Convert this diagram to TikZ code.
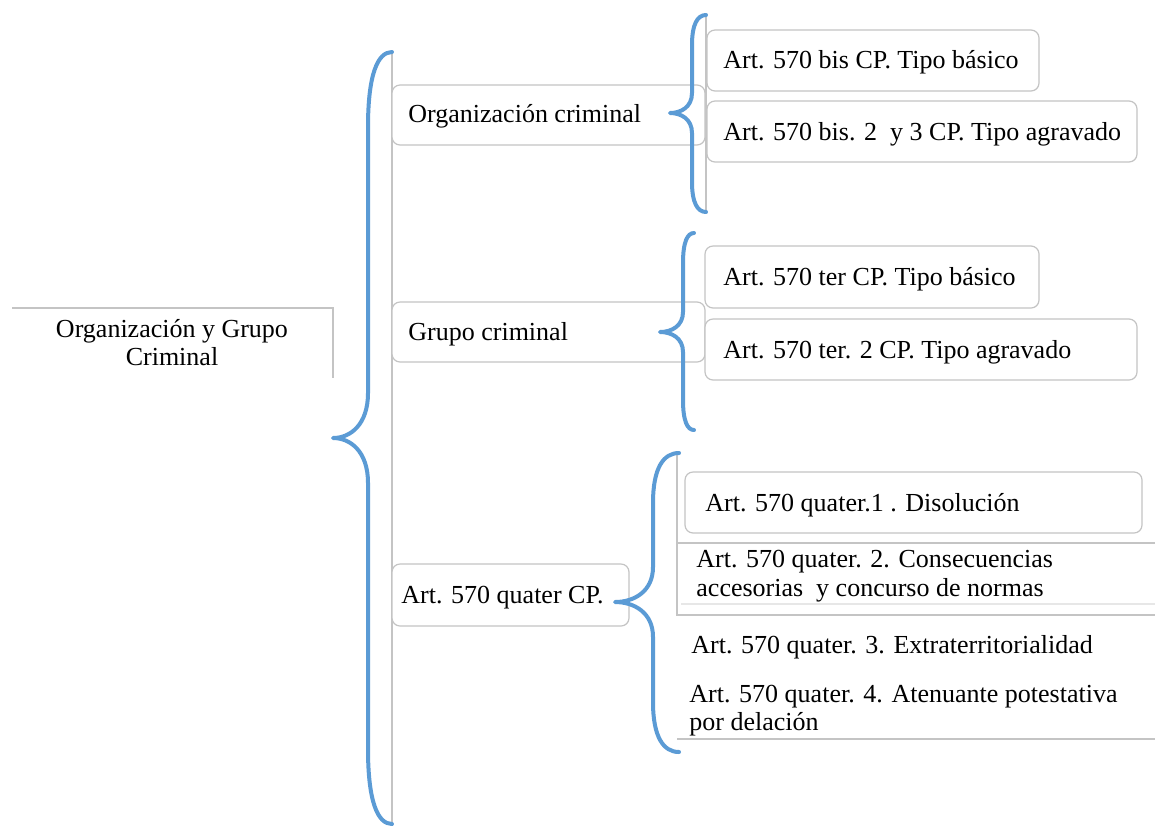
\documentclass[tikz,border=0pt]{standalone}
\usepackage{fontspec}
\setmainfont{Liberation Serif}
\definecolor{braceblue}{HTML}{5B9BD5}
\definecolor{framegray}{HTML}{C4C4C4}
% curly brace: top x, top y, bottom y, tip x, tip y, shaft x, end curl, tip curl
\newcommand\curlybrace[8]{%
  \draw[brace] (#1,#2) .. controls ({#6+0.4*(#1-#6)},#2) and (#6,{#2+0.3*#7}) .. (#6,{#2+#7})
    -- (#6,{#5-#8}) .. controls (#6,{#5-0.3*#8}) and ({#6-0.5*(#6-#4)},#5) .. (#4,#5)
    .. controls ({#6-0.5*(#6-#4)},#5) and (#6,{#5+0.3*#8}) .. (#6,{#5+#8})
    -- (#6,{#3-#7}) .. controls (#6,{#3-0.3*#7}) and ({#6+0.4*(#1-#6)},#3) .. (#1,#3);}
\begin{document}
\begin{tikzpicture}[x=0.5pt,y=-0.5pt,
  frame/.style={draw=framegray, line width=0.6pt},
  card/.style={frame, fill=white, rounded corners=4pt},
  label/.style={anchor=base west, inner sep=0pt, text=black, font=\fontsize{13}{14}\selectfont},
  rootlabel/.style={label, anchor=base},
  brace/.style={draw=braceblue, line width=2pt, line cap=round, line join=round}]
\useasboundingbox[fill=white] (0,0) rectangle (1155,826);

% root frame
\draw[frame] (12,308) -- (333,308) -- (333,378);
\node[rootlabel] (root1) at (172,337) {Organización y Grupo};
\node[rootlabel] (root2) at (172,365) {Criminal};

% guide lines of the groups
\draw[frame] (392,52) -- (392,826);
\draw[frame] (706,15) -- (706,212);
\draw[frame] (677,453) -- (677,616);

% first level
\draw[card] (392,85) rectangle (705,145);
\draw[card] (392,302) rectangle (705,362);
\draw[card] (392,564) rectangle (629,626);
\node[label] (oc) at (408,122) {Organización criminal};
\node[label] (gc) at (408,340) {Grupo criminal};
\node[label] (aq) at (401,603) {Art. 570 quater CP.};

% children of Organización criminal
\draw[card] (707,30) rectangle (1039,91);
\draw[card] (707,101) rectangle (1137,162);
\node[label] (oc1) at (723,68) {Art. 570 bis CP. Tipo básico};
\node[label] (oc2) at (723,140) {Art. 570 bis. 2~ y 3 CP. Tipo agravado};

% children of Grupo criminal
\draw[card] (705,246) rectangle (1039,308);
\draw[card] (705,319) rectangle (1137,380);
\node[label] (gc1) at (723,285) {Art. 570 ter CP. Tipo básico};
\node[label] (gc2) at (723,358) {Art. 570 ter. 2 CP. Tipo agravado};

% children of Art. 570 quater CP.
\draw[card] (685,472) rectangle (1142,533);
\draw[frame] (678,543) -- (1155,543);
\draw[frame, draw=framegray!40] (681,604) -- (1155,604);
\draw[frame] (677,615) -- (1155,615);
\draw[frame] (677,739) -- (1155,739);
\node[label] (aq1) at (705,511) {Art. 570 quater.1 . Disolución};
\node[label] (aq2) at (696,567) {Art. 570 quater. 2. Consecuencias};
\node[label] (aq2b) at (696,596) {accesorias~ y concurso de normas};
\node[label] (aq3) at (691,653) {Art. 570 quater. 3. Extraterritorialidad};
\node[label] (aq4) at (689,702) {Art. 570 quater. 4. Atenuante potestativa};
\node[label] (aq4b) at (689,730) {por delación};

% braces
\curlybrace{392}{52}{824}{333}{438}{368}{75}{45}
\curlybrace{706}{15}{212}{670}{113}{692}{30}{20}
\curlybrace{694}{233}{430}{660}{332}{683}{30}{20}
\curlybrace{679}{453}{752}{615}{602}{653}{50}{35}
\end{tikzpicture}
\end{document}
